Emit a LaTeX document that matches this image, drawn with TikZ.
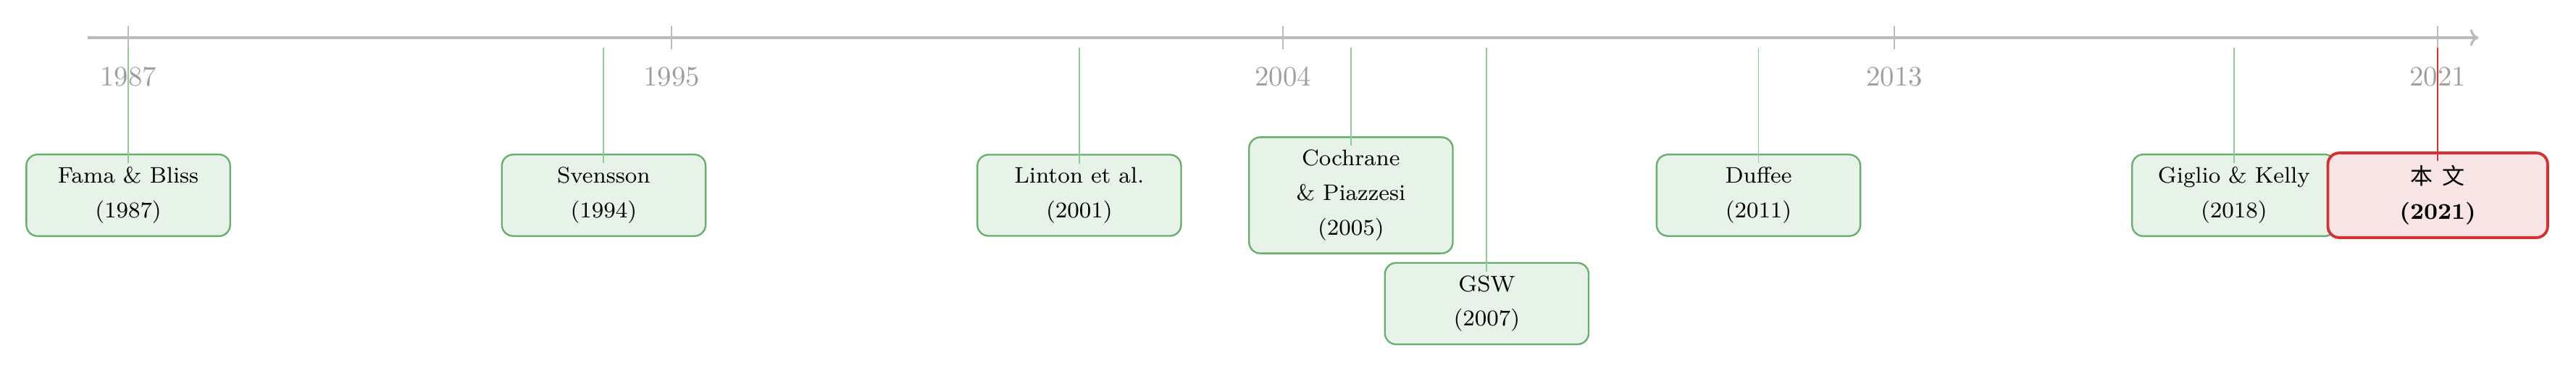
\documentclass[tikz,border=0pt]{standalone}
\usepackage{fontspec}
\newfontfamily\cjkfont{Noto Sans CJK SC}
\usepackage{xcolor}
\usepackage{tikz}
\usetikzlibrary{positioning,arrows.meta}

\definecolor{axisgray}{RGB}{187,187,187}
\definecolor{labelgray}{RGB}{158,158,158}
\definecolor{linkgreen}{RGB}{146,200,154}
\definecolor{boxgreen}{RGB}{104,172,112}
\definecolor{fillgreen}{RGB}{231,242,232}
\definecolor{boxred}{RGB}{206,52,52}
\definecolor{fillred}{RGB}{248,228,229}

\begin{document}
\begin{tikzpicture}[
    paper/.style={draw=boxgreen, fill=fillgreen, line width=0.6pt, rounded corners=4pt, align=center,
                  minimum width=2.55cm, inner sep=4.5pt, font=\linespread{1.3}\footnotesize},
    ours/.style={paper, draw=boxred, fill=fillred, line width=1pt, minimum width=2.75cm},
    link/.style={draw=linkgreen, line width=0.5pt},
    ourlink/.style={draw=boxred, line width=0.5pt},
    axis/.style={draw=axisgray, thick, -{To[length=3pt,width=6pt]}},
    tickmark/.style={draw=axisgray, thin},
    yearlbl/.style={text=labelgray, inner sep=0pt}
]
\useasboundingbox (-1.605,0.471) rectangle (30.63,-4.17);

% time axis
\coordinate (start) at (-0.51,0);
\coordinate (end) at (29.41,0);
\draw[axis] (start) -- (end);
\foreach \yr in {1987,1995,2004,2013,2021} {
  \draw[tickmark] ({(\yr-1987)*0.85},0.145) -- ({(\yr-1987)*0.85},-0.145);
  \node[yearlbl] (y\yr) at ({(\yr-1987)*0.85},-0.49) {\yr};
}

% papers
\node[paper] (fama) at (0,-1.972) {Fama \& Bliss\\(1987)};
\node[paper] (svensson) at (5.95,-1.972) {Svensson\\(1994)};
\node[paper] (linton) at (11.9,-1.972) {Linton et al.\\(2001)};
\node[paper] (cochrane) at (15.3,-1.972) {Cochrane\\\& Piazzesi\\(2005)};
\node[paper] (gsw) at (17.0,-3.327) {GSW\\(2007)};
\node[paper] (duffee) at (20.4,-1.972) {Duffee\\(2011)};
\node[paper] (giglio) at (26.35,-1.972) {Giglio \& Kelly\\(2018)};
\node[ours] (thispaper) at (28.9,-1.972) {{\cjkfont 本\hspace{0.4em}文}\\\textbf{(2021)}};

% links to the axis
\coordinate (below axis) at (0,-0.127);
\foreach \p in {fama,svensson,linton,cochrane,gsw,duffee,giglio}
  \draw[link] (\p.north |- below axis) -- ([yshift=-0.12cm]\p.north);
\draw[ourlink] (thispaper.north |- below axis) -- ([yshift=-0.12cm]thispaper.north);
\end{tikzpicture}
\end{document}
